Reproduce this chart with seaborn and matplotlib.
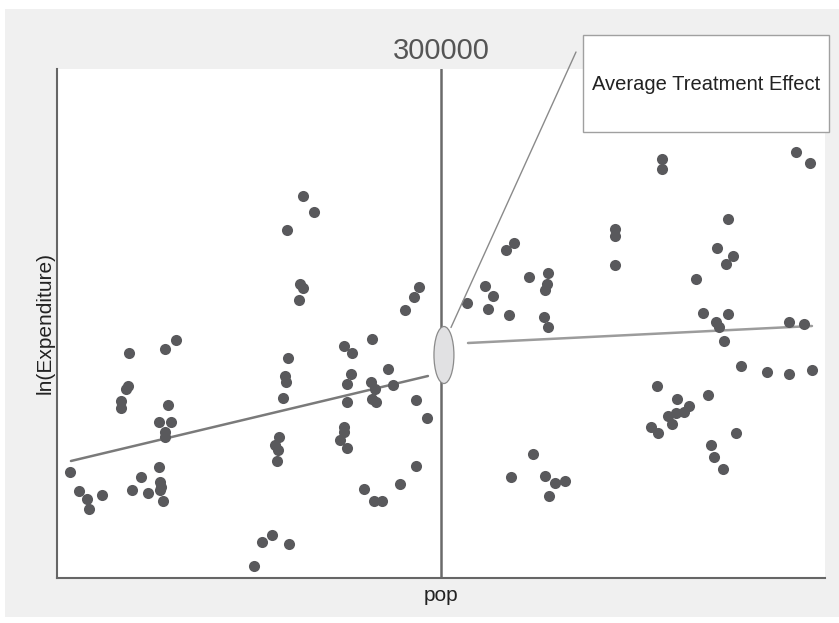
import pandas as pd
import matplotlib.pyplot as plt
from matplotlib.patches import Ellipse, Rectangle
import seaborn as sns

# Regression discontinuity: population (thousands) vs ln(Expenditure)
cutoff = 300

left_pop = [56.3, 84.4, 93.0, 55.5, 53.9, 50.0, 50.0, 86.7, 79.7, 89.1, 84.4, 84.4,
            10.2, 79.7, 65.6, 80.5, 81.3, 80.5, 17.2, 23.4, 25.0, 35.2, 58.6, 71.1,
            82.8, 153.9, 192.2, 200.8, 179.7, 189.8, 192.2, 189.1, 282.8, 278.9, 271.9,
            246.1, 224.2, 230.5, 180.5, 258.6, 178.1, 229.7, 178.9, 176.6, 226.6, 245.3,
            248.4, 262.5, 246.1, 249.2, 226.6, 280.5, 289.1, 173.4, 170.3, 172.7, 171.9,
            224.2, 224.2, 221.1, 226.6, 280.5, 268.0, 239.8, 247.7, 253.9, 168.0, 160.2,
            181.3]
left_lnexp = [11.25, 11.29, 11.38, 10.92, 10.89, 10.77, 10.70, 10.73, 10.56, 10.56, 10.46,
              10.41, 10.06, 10.11, 10.01, 9.96, 9.91, 9.88, 9.87, 9.79, 9.69, 9.83, 9.88,
              9.85, 9.77, 9.12, 12.82, 12.66, 12.48, 11.94, 11.90, 11.78, 11.91, 11.81,
              11.68, 11.39, 11.32, 11.25, 11.20, 11.09, 11.02, 11.04, 10.96, 10.80, 10.94,
              10.96, 10.89, 10.93, 10.79, 10.76, 10.76, 10.78, 10.60, 10.41, 10.33, 10.28,
              10.17, 10.51, 10.46, 10.38, 10.30, 10.12, 9.94, 9.89, 9.77, 9.77, 9.43, 9.36,
              9.34]

right_pop = [357.0, 350.8, 435.9, 435.9, 435.9, 368.8, 383.6, 382.8, 381.3, 334.4, 340.6,
             320.3, 336.7, 353.1, 380.5, 383.6, 371.9, 354.7, 381.3, 389.1, 396.9, 384.4,
             472.7, 472.7, 577.3, 588.3, 524.2, 515.6, 528.1, 522.7, 499.2, 504.7, 524.2,
             514.8, 517.2, 521.1, 571.9, 583.6, 534.4, 554.7, 571.9, 589.8, 468.8, 484.4,
             493.8, 508.6, 477.3, 483.6, 489.8, 464.1, 469.5, 480.5, 510.9, 513.3, 520.3,
             530.5]
right_lnexp = [12.35, 12.28, 12.49, 12.42, 12.13, 12.01, 12.05, 11.94, 11.88, 11.92, 11.82,
               11.75, 11.69, 11.63, 11.61, 11.51, 10.24, 10.01, 10.02, 9.95, 9.97, 9.82,
               13.19, 13.09, 13.26, 13.15, 12.59, 12.30, 12.22, 12.14, 11.99, 11.65, 11.64,
               11.56, 11.51, 11.37, 11.56, 11.54, 11.12, 11.06, 11.04, 11.08, 10.92, 10.79,
               10.72, 10.83, 10.62, 10.65, 10.66, 10.51, 10.45, 10.54, 10.33, 10.21, 10.09,
               10.45]

# fitted lines on each side of the cutoff
left_fit_pop = [10.9, 289.8]
left_fit_lnexp = [10.17, 11.02]
right_fit_pop = [321.1, 589.8]
right_fit_lnexp = [11.35, 11.52]

# treatment effect marker
ate_pop, ate_lnexp = 302.3, 11.23
ate_w, ate_h = 15.6, 0.57

pts = pd.DataFrame({"pop": left_pop + right_pop, "lnexp": left_lnexp + right_lnexp})

sns.set_style("white")
plt.rcParams["font.family"] = ["Liberation Sans", "DejaVu Sans"]

fig = plt.figure(figsize=(8.39, 6.23), dpi=100)
fig.patch.set_facecolor("white")
fig.add_artist(Rectangle((5 / 839, 6 / 623), 834 / 839, 608 / 623,
                         transform=fig.transFigure, facecolor="#f0f0f0",
                         edgecolor="none", zorder=-10))

ax = fig.add_axes([57 / 839, 45 / 623, 768 / 839, 509 / 623])
ax.set_facecolor("white")

ax.axvline(cutoff, color="#6a6a6a", lw=1.8, zorder=1)

sns.scatterplot(data=pts, x="pop", y="lnexp", ax=ax, color="#59595c", s=64,
                linewidth=0, zorder=3)
sns.lineplot(x=left_fit_pop, y=left_fit_lnexp, ax=ax, color="#7a7a7a", lw=1.8, zorder=2)
sns.lineplot(x=right_fit_pop, y=right_fit_lnexp, ax=ax, color="#9c9c9c", lw=1.8, zorder=2)

ax.add_patch(Ellipse((ate_pop, ate_lnexp), ate_w, ate_h, facecolor="#e1e1e3",
                     edgecolor="#8a8a8a", lw=0.9, zorder=4))

ax.set_xlim(0, 600)
ax.set_ylim(9.0, 14.09)
ax.set_xticks([])
ax.set_yticks([])
for side in ["top", "right"]:
    ax.spines[side].set_visible(False)
for side in ["left", "bottom"]:
    ax.spines[side].set_color("#666666")
    ax.spines[side].set_linewidth(1.5)

ax.set_xlabel("pop", fontsize=15, color="#222222", labelpad=6)
ax.set_ylabel("ln(Expenditure)", fontsize=15, color="#222222", labelpad=2)

ax.annotate(str(cutoff * 1000), xy=(cutoff, 1), xycoords=("data", "axes fraction"),
            xytext=(0, 7), textcoords="offset points", ha="center", va="baseline",
            fontsize=21, color="#555555", annotation_clip=False)

# callout box
fig.add_artist(Rectangle((583 / 839, 1 - 132 / 623), 246 / 839, 97 / 623,
                         transform=fig.transFigure, facecolor="white",
                         edgecolor="#a0a0a0", lw=1, zorder=5))
fig.text(706 / 839, 1 - 84 / 623, "Average Treatment Effect", ha="center", va="center",
         fontsize=14.5, color="#222222", zorder=6)
ax.annotate("", xy=(307.8, ate_lnexp + ate_h / 2 - 0.01), xycoords="data",
            xytext=(576 / 839, 1 - 52 / 623), textcoords="figure fraction",
            arrowprops=dict(arrowstyle="-", color="#8a8a8a", lw=1,
                            shrinkA=0, shrinkB=0),
            annotation_clip=False)

fig.savefig("out.png", dpi=100)
